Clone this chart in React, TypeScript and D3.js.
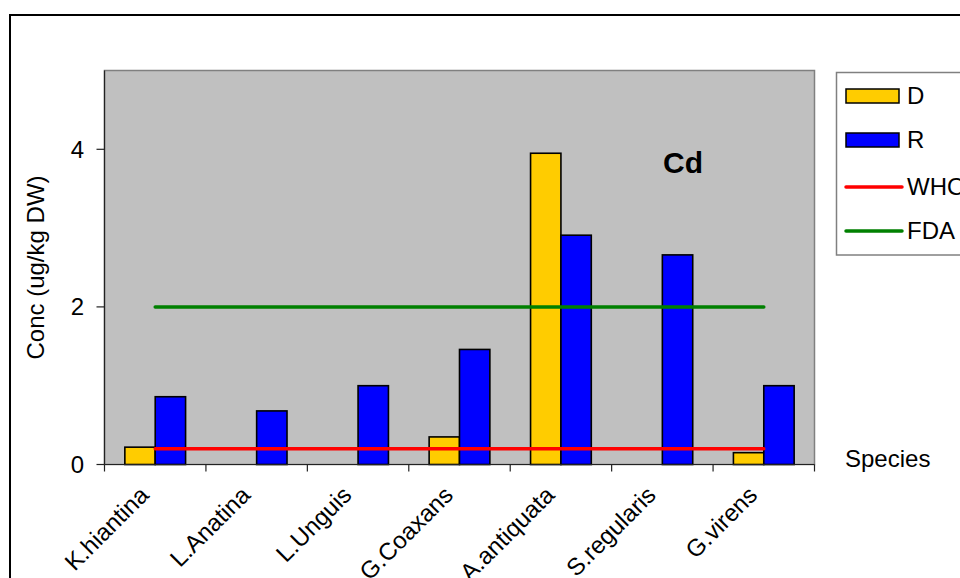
import React from "react";
import * as d3 from "d3";

const categories = ["K.hiantina", "L.Anatina", "L.Unguis", "G.Coaxans", "A.antiquata", "S.regularis", "G.virens"];
const seriesNames = ["D", "R"];
const valuesD = [0.22, 0, 0, 0.35, 3.95, 0, 0.15];
const valuesR = [0.86, 0.68, 1.0, 1.46, 2.91, 2.66, 1.0];
const whoLimit = [0.2, 0.2, 0.2, 0.2, 0.2, 0.2, 0.2];
const fdaLimit = [2, 2, 2, 2, 2, 2, 2];
const yTicks = [0, 2, 4];
const seriesColors = { D: "#FFCC00", R: "#0000FF" };
const lineSeries = [
  { name: "WHO", values: whoLimit, color: "#FF0000" },
  { name: "FDA", values: fdaLimit, color: "#008000" },
];

const W = 960;
const H = 578;
const plot = { left: 104.5, right: 814.5, top: 70.5, bottom: 464.5 };
const FONT = "'Liberation Sans', Arial, Helvetica, sans-serif";
const FS = 24;

export default function App() {
  const x0 = d3.scaleBand().domain(categories).range([plot.left, plot.right]).padding(0);
  const x1 = d3
    .scaleBand()
    .domain(seriesNames)
    .range([0, x0.bandwidth()])
    .paddingInner(0)
    .paddingOuter(0.67);
  const y = d3.scaleLinear().domain([0, 5]).range([plot.bottom, plot.top]);

  const seriesData = { D: valuesD, R: valuesR };
  const center = (c: string) => (x0(c) ?? 0) + x0.bandwidth() / 2;
  const lineGen = d3
    .line<number>()
    .x((_, i) => center(categories[i]))
    .y((v) => y(v));

  const legendX = 846;
  const legendItems = [
    { type: "bar", name: "D", color: seriesColors.D, y: 96 },
    { type: "bar", name: "R", color: seriesColors.R, y: 140 },
    { type: "line", name: "WHO", color: lineSeries[0].color, y: 187 },
    { type: "line", name: "FDA", color: lineSeries[1].color, y: 231 },
  ];

  return (
    <svg
      width={W}
      height={H}
      style={{ position: "absolute", left: 0, top: 0, display: "block", background: "#fff" }}
      fontFamily={FONT}
    >
      <rect x={0} y={0} width={W} height={H} fill="#fff" />
      {/* outer chart border */}
      <rect x={10} y={15} width={1000} height={700} fill="none" stroke="#000" strokeWidth={2} />

      {/* plot area */}
      <rect
        x={plot.left}
        y={plot.top}
        width={plot.right - plot.left}
        height={plot.bottom - plot.top}
        fill="#C0C0C0"
        stroke="#808080"
        strokeWidth={1.5}
      />

      {/* bars */}
      {seriesNames.map((s) =>
        categories.map((c, i) => {
          const v = (seriesData as any)[s][i];
          if (!v) return null;
          const bx = (x0(c) ?? 0) + (x1(s) ?? 0);
          return (
            <rect
              key={s + c}
              x={bx}
              y={y(v)}
              width={x1.bandwidth()}
              height={y(0) - y(v)}
              fill={(seriesColors as any)[s]}
              stroke="#000"
              strokeWidth={1.6}
            />
          );
        })
      )}

      {/* limit lines */}
      {lineSeries.map((l) => (
        <path
          key={l.name}
          d={lineGen(l.values) ?? ""}
          fill="none"
          stroke={l.color}
          strokeWidth={3.5}
          strokeLinecap="round"
        />
      ))}

      {/* axes */}
      <line x1={plot.left} x2={plot.left} y1={plot.top} y2={plot.bottom} stroke="#222" strokeWidth={1.2} />
      <line x1={plot.left} x2={plot.right} y1={plot.bottom} y2={plot.bottom} stroke="#222" strokeWidth={1.2} />
      {yTicks.map((t) => (
        <g key={t}>
          <line x1={plot.left - 8} x2={plot.left} y1={y(t)} y2={y(t)} stroke="#222" strokeWidth={1.2} />
          <text x={84} y={y(t)} dy="0.35em" textAnchor="end" fontSize={FS} fill="#000">
            {t}
          </text>
        </g>
      ))}
      {[...categories.map((c) => x0(c) ?? 0), plot.right].map((xv, i) => (
        <line key={i} x1={xv} x2={xv} y1={plot.bottom} y2={plot.bottom + 7} stroke="#222" strokeWidth={1.2} />
      ))}
      {categories.map((c) => {
        const cx = center(c) - 5;
        const cy = plot.bottom + 32;
        return (
          <text
            key={c}
            x={cx}
            y={cy}
            textAnchor="end"
            fontSize={FS}
            fill="#000"
            transform={`rotate(-45 ${cx} ${cy})`}
          >
            {c}
          </text>
        );
      })}

      {/* axis titles */}
      <text
        x={36}
        y={(plot.top + plot.bottom) / 2}
        dy="0.35em"
        textAnchor="middle"
        fontSize={FS}
        fill="#000"
        transform={`rotate(-90 36 ${(plot.top + plot.bottom) / 2})`}
      >
        Conc (ug/kg DW)
      </text>
      <text x={845} y={466.5} fontSize={FS} fill="#000">
        Species
      </text>
      <text x={663} y={173} fontSize={30} fontWeight="bold" fill="#000">
        Cd
      </text>

      {/* legend */}
      <rect x={836.5} y={72.5} width={200} height={182.5} fill="#fff" stroke="#808080" strokeWidth={1.5} />
      {legendItems.map((it) => (
        <g key={it.name}>
          {it.type === "bar" ? (
            <rect x={legendX} y={it.y - 7} width={53} height={14} fill={it.color} stroke="#000" strokeWidth={1.5} />
          ) : (
            <line
              x1={legendX}
              x2={legendX + 56}
              y1={it.y}
              y2={it.y}
              stroke={it.color}
              strokeWidth={3.5}
              strokeLinecap="round"
            />
          )}
          <text x={907} y={it.y} dy="0.35em" fontSize={FS} fill="#000">
            {it.name}
          </text>
        </g>
      ))}
    </svg>
  );
}
